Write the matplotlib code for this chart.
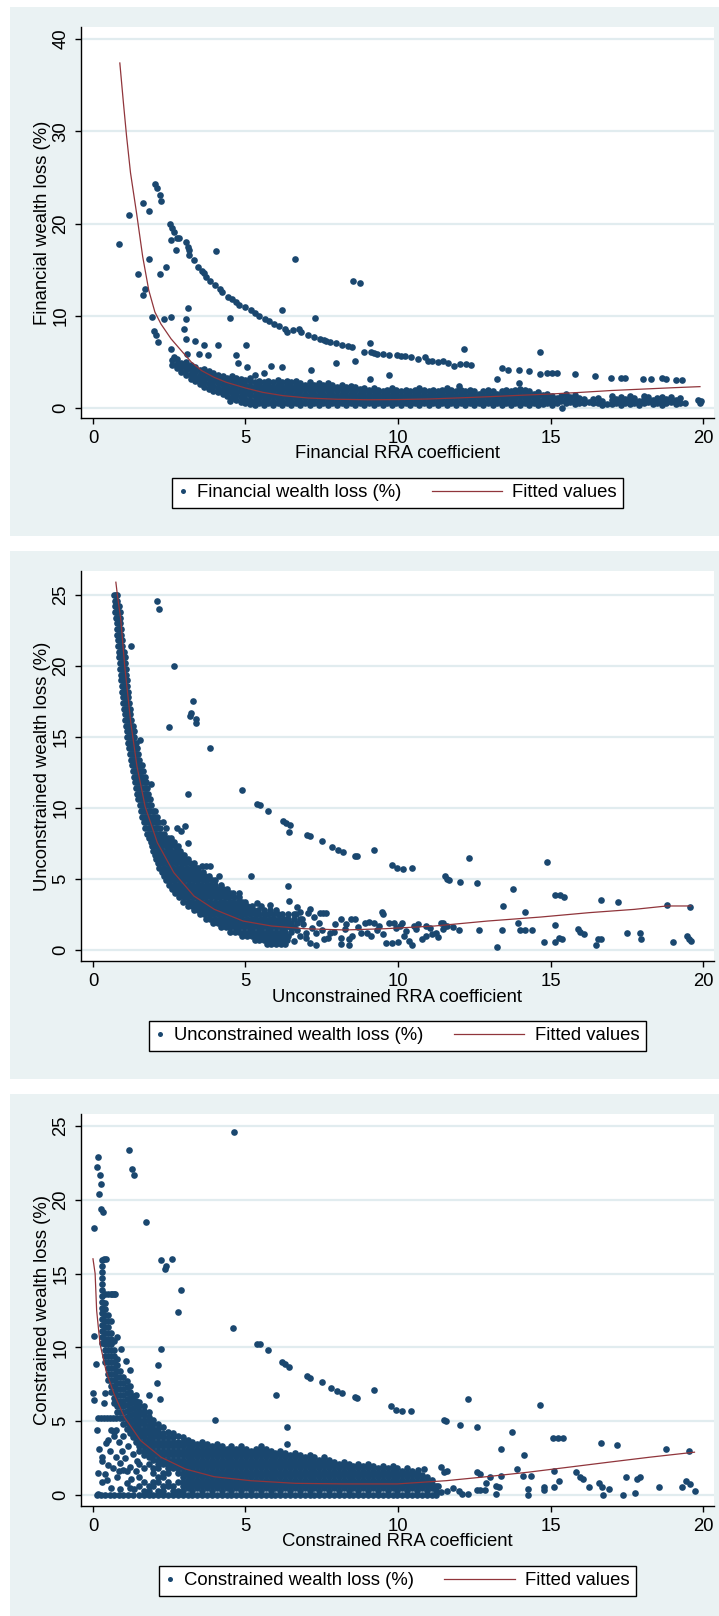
import matplotlib
matplotlib.use("Agg")
import matplotlib.pyplot as plt
from matplotlib.patches import Rectangle
from matplotlib.lines import Line2D
from matplotlib.legend_handler import HandlerBase

plt.rcParams["font.family"] = ["Liberation Sans", "DejaVu Sans"]

W, H, DPI = 719, 1616, 100
NAVY = "#1a476f"
MAROON = "#90353b"
PANEL_BG = "#eaf2f3"
GRID_C = "#e1ecef"
FS = 13.3
MS = 4.8

# ---------------- axis ticks / labels ----------------
x_ticks = [0, 5, 10, 15, 20]
p1_yticks = [0, 10, 20, 30, 40]
p2_yticks = [0, 5, 10, 15, 20, 25]
p3_yticks = [0, 5, 10, 15, 20, 25]

p1_xlabel = "Financial RRA coefficient"
p1_ylabel = "Financial wealth loss (%)"
p2_xlabel = "Unconstrained RRA coefficient"
p2_ylabel = "Unconstrained wealth loss (%)"
p3_xlabel = "Constrained RRA coefficient"
p3_ylabel = "Constrained wealth loss (%)"
fit_label = "Fitted values"

# ---------------- Panel 1: financial ----------------
p1_fit_x = [0.88, 1.0, 1.1, 1.23, 1.43, 1.63, 1.83, 2.03, 2.23, 2.56, 2.9, 3.23, 3.56, 3.97, 4.37,
            5.0, 5.57, 6.23, 7.04, 8.0, 9.0, 10.0, 11.0, 12.0, 13.0, 14.0, 15.0, 16.0, 17.0, 18.0, 19.0, 19.9]
p1_fit_y = [37.4, 33.0, 29.5, 25.5, 21.1, 16.4, 12.75, 10.4, 9.1, 7.5, 6.2, 4.96, 4.06, 3.33, 2.79,
            2.17, 1.7, 1.34, 1.09, 0.95, 0.9, 0.92, 0.98, 1.1, 1.23, 1.38, 1.52, 1.7, 1.9, 2.05, 2.2, 2.32]

p1_band = [
    (2.60, [4.7, 5.2]), (2.75, [4.3, 4.8, 5.3]), (2.90, [3.9, 4.4, 4.9]), (3.05, [3.6, 4.1, 4.6, 5.0]),
    (3.20, [3.2, 3.7, 4.2, 4.7]), (3.35, [2.9, 3.4, 3.9, 4.4]), (3.50, [2.6, 3.1, 3.6, 4.1]),
    (3.65, [2.3, 2.8, 3.3, 3.8, 4.2]), (3.80, [2.1, 2.6, 3.1, 3.6, 4.0]), (3.95, [1.9, 2.4, 2.9, 3.4, 3.8]),
    (4.10, [1.7, 2.2, 2.7, 3.2, 3.6]), (4.25, [1.5, 2.0, 2.5, 3.0, 3.5]), (4.40, [1.3, 1.8, 2.3, 2.8, 3.3]),
    (4.55, [1.1, 1.6, 2.1, 2.6, 3.1, 3.5]), (4.70, [0.9, 1.4, 1.9, 2.4, 2.9, 3.3]),
    (4.85, [0.7, 1.2, 1.7, 2.2, 2.7, 3.2]), (5.00, [0.5, 1.0, 1.5, 2.0, 2.5, 3.0]),
    (5.15, [0.4, 0.9, 1.4, 1.9, 2.4, 2.9, 3.3]), (5.30, [0.3, 0.8, 1.3, 1.8, 2.3, 2.8, 3.6]),
    (5.45, [0.55, 1.05, 1.55, 2.05, 2.55, 2.95]), (5.60, [0.3, 0.8, 1.3, 1.8, 2.3, 2.8, 3.8]),
    (5.75, [0.55, 1.05, 1.55, 2.05, 2.55, 2.95]), (5.90, [0.3, 0.8, 1.3, 1.8, 2.3, 2.8]),
    (6.05, [0.55, 1.05, 1.55, 2.05, 2.55, 3.05]), (6.20, [0.3, 0.8, 1.3, 1.8, 2.3, 2.8]),
    (6.35, [0.55, 1.05, 1.55, 2.05, 2.55, 2.95]), (6.50, [0.3, 0.8, 1.3, 1.8, 2.3, 2.8]),
    (6.65, [0.55, 1.05, 1.55, 2.05, 2.55, 2.95]), (6.80, [0.3, 0.8, 1.3, 1.8, 2.3, 2.7]),
    (6.95, [0.55, 1.05, 1.55, 2.05, 2.55]), (7.10, [0.3, 0.8, 1.3, 1.8, 2.3, 2.8]),
    (7.25, [0.55, 1.05, 1.55, 2.05, 2.55]), (7.40, [0.3, 0.8, 1.3, 1.8, 2.3, 2.7]),
    (7.55, [0.55, 1.05, 1.55, 2.05, 2.5]), (7.70, [0.3, 0.8, 1.3, 1.8, 2.3, 2.7]),
    (7.85, [0.55, 1.05, 1.55, 2.05, 2.5]), (8.00, [0.3, 0.8, 1.3, 1.8, 2.3]),
    (8.15, [0.55, 1.05, 1.55, 2.05, 2.5]), (8.30, [0.3, 0.8, 1.3, 1.8, 2.3]),
    (8.45, [0.55, 1.05, 1.55, 2.05, 2.4]), (8.60, [0.3, 0.8, 1.3, 1.8, 2.3]),
    (8.75, [0.55, 1.05, 1.55, 2.05]), (8.90, [0.3, 0.8, 1.3, 1.8, 2.2]),
    (9.05, [0.55, 1.05, 1.55, 2.0]), (9.20, [0.3, 0.8, 1.3, 1.8, 2.2]), (9.35, [0.55, 1.05, 1.55, 2.0]),
    (9.50, [0.3, 0.8, 1.3, 1.8]), (9.65, [0.55, 1.05, 1.55, 2.0]), (9.80, [0.3, 0.8, 1.3, 1.8, 2.2]),
    (9.95, [0.55, 1.05, 1.55, 2.0]), (10.10, [0.3, 0.8, 1.3, 1.8]), (10.25, [0.55, 1.05, 1.55, 2.0]),
    (10.40, [0.3, 0.8, 1.3, 1.8]), (10.55, [0.55, 1.05, 1.55, 2.0]), (10.70, [0.3, 0.8, 1.3, 1.8, 2.2]),
    (10.85, [0.55, 1.05, 1.55, 1.95]), (11.00, [0.3, 0.8, 1.3, 1.8]), (11.15, [0.55, 1.05, 1.55, 2.0]),
    (11.30, [0.3, 0.8, 1.3, 1.8]), (11.45, [0.55, 1.05, 1.55, 2.0]), (11.60, [0.3, 0.8, 1.3, 1.8, 2.2]),
    (11.75, [0.55, 1.05, 1.55, 2.0]), (11.90, [0.3, 0.8, 1.3, 1.8]), (12.05, [0.55, 1.05, 1.55, 2.0]),
    (12.20, [0.3, 0.8, 1.3, 1.8]), (12.35, [0.55, 1.05, 1.55, 1.95]), (12.50, [0.3, 0.8, 1.3, 1.8]),
    (12.65, [0.55, 1.05, 1.55]), (12.80, [0.3, 0.8, 1.3, 1.8]), (12.95, [0.55, 1.05, 1.55, 1.95]),
    (13.10, [0.3, 0.8, 1.3, 1.8]), (13.25, [0.55, 1.05, 1.55]), (13.40, [0.3, 0.8, 1.3, 1.8]),
    (13.55, [0.55, 1.05, 1.55, 2.0]), (13.70, [0.3, 0.8, 1.3, 1.8]), (13.85, [0.55, 1.05, 1.55, 2.0]),
    (14.00, [0.3, 0.8, 1.3, 1.8, 2.1]), (14.15, [0.55, 1.05, 1.55, 2.0]), (14.30, [0.3, 0.8, 1.3, 1.8]),
    (14.45, [0.55, 1.05, 1.55]), (14.60, [0.3, 0.8, 1.3, 1.7]),
    (14.75, [0.4, 0.9, 1.4]), (14.90, [0.5, 1.0, 1.5]), (15.05, [0.3, 0.8, 1.3]), (15.20, [0.6, 1.1]),
    (15.35, [0.8, 1.3]), (15.50, [0.5, 1.0, 1.5]), (15.65, [0.7, 1.2]), (15.80, [0.4, 0.9, 1.4]),
    (15.95, [0.6, 1.1]), (16.10, [0.5, 1.0]), (16.25, [0.7]), (16.40, [0.5, 1.0]), (16.55, [0.6, 1.1]),
    (16.70, [0.3, 0.8]), (16.85, [0.4]), (17.00, [0.4, 0.9, 1.3]), (17.15, [0.5, 1.0]),
    (17.30, [0.3, 0.8, 1.2]), (17.45, [0.5, 1.0]), (17.60, [0.4, 0.9, 1.3]), (17.75, [0.6, 1.1]),
    (17.90, [0.3, 0.8]), (18.05, [0.5, 1.0, 1.3]), (18.20, [0.7, 1.2]), (18.35, [0.4, 0.9]),
    (18.50, [0.6, 1.1]), (18.65, [0.3, 0.8, 1.2]), (18.80, [0.5, 1.0]), (18.95, [0.7, 1.2]),
    (19.10, [0.4, 0.9]), (19.25, [0.6, 1.1]), (19.40, [0.5]),
]

p1_scatter = [
    (0.84, 17.8), (1.19, 20.9), (1.63, 22.2), (1.83, 21.4), (2.03, 24.3), (2.1, 23.8), (2.19, 23.1), (2.23, 22.4),
    (2.52, 20.0), (2.6, 19.5), (2.66, 19.1), (2.56, 18.2), (2.76, 18.4), (2.83, 18.4), (2.72, 17.1), (3.06, 18.0),
    (3.1, 17.5), (3.16, 17.1), (3.14, 16.6), (3.3, 16.0), (3.45, 15.3), (3.56, 14.9), (3.63, 14.6), (3.72, 14.2),
    (3.83, 13.8), (4.0, 13.3), (4.17, 12.9), (4.23, 12.6), (4.43, 12.0), (4.55, 11.8), (4.7, 11.5), (4.8, 11.2),
    (5.0, 10.9), (5.17, 10.6), (5.3, 10.3), (5.43, 10.0), (5.63, 9.7), (5.77, 9.4), (5.95, 9.1), (6.1, 8.9),
    (6.3, 8.6), (6.37, 8.2), (6.55, 8.5), (6.77, 8.6), (6.83, 8.2), (7.04, 7.9), (7.24, 7.7), (7.44, 7.5),
    (7.57, 7.4), (7.65, 7.3), (7.77, 7.2), (7.97, 7.0), (8.17, 6.8), (8.35, 6.7), (8.5, 6.6), (8.9, 6.1),
    (9.1, 6.1), (9.2, 6.0), (9.3, 5.9), (9.5, 5.9), (9.7, 5.8), (9.97, 5.7), (10.1, 5.6), (10.24, 5.6),
    (10.44, 5.5), (10.64, 5.3), (10.9, 5.5), (10.97, 5.1), (11.1, 5.1), (11.3, 5.0), (11.48, 5.1), (11.65, 4.9),
    (11.84, 4.6), (12.04, 4.8), (12.24, 4.8), (12.4, 4.7),
    (1.47, 14.5), (1.83, 16.1), (2.19, 14.5), (2.4, 15.3), (1.7, 12.9), (1.63, 12.2), (1.94, 9.9), (1.99, 8.4),
    (2.06, 7.9), (2.14, 7.2), (2.34, 9.6), (2.56, 9.9), (3.1, 10.8), (3.06, 9.7), (3.0, 8.6), (3.06, 7.5),
    (3.36, 7.3), (3.63, 6.8), (2.56, 6.4), (2.66, 5.5), (3.07, 5.9), (3.46, 5.9), (3.77, 5.8), (4.1, 6.8),
    (4.03, 17.0), (4.5, 9.8), (4.7, 5.8), (4.74, 4.9), (5.03, 6.8), (5.06, 4.4), (6.21, 10.6), (6.61, 16.1),
    (7.28, 9.8), (8.53, 13.8), (8.77, 13.6), (7.97, 4.9), (8.58, 5.1), (9.07, 7.1), (7.14, 4.1), (5.83, 4.6),
    (6.21, 4.5), (9.08, 3.2), (9.7, 3.6), (12.15, 6.4), (12.0, 2.4), (13.25, 3.2), (13.4, 4.3), (13.6, 4.1),
    (13.98, 4.1), (13.98, 2.7), (14.31, 4.0), (14.67, 6.1), (14.67, 3.7), (14.9, 3.8), (15.05, 3.8), (15.2, 3.8),
    (15.8, 3.7), (16.45, 3.5), (16.98, 3.3), (17.3, 3.3), (17.45, 3.3), (18.02, 3.2), (18.29, 3.2), (18.65, 3.3),
    (18.78, 3.2), (19.12, 3.0), (19.32, 3.0), (19.85, 0.9), (19.9, 0.6), (19.95, 0.8), (15.38, 0.0), (4.5, 0.8),
]

# ---------------- Panel 2: unconstrained ----------------
p2_fit_x = [0.75, 0.8, 0.91, 1.04, 1.24, 1.44, 1.71, 2.11, 2.65, 3.31, 3.98, 4.92, 5.85, 6.92, 8.26,
            9.59, 11.2, 12.94, 14.67, 16.27, 17.74, 18.81, 19.6]
p2_fit_y = [25.9, 25.0, 23.3, 20.0, 16.0, 12.96, 10.1, 7.56, 5.45, 3.8, 2.86, 2.04, 1.69, 1.5, 1.41,
            1.5, 1.69, 2.04, 2.32, 2.63, 2.86, 3.1, 3.1]

p2_band = [
    (25.0, [0.70, 0.74, 0.79]), (24.6, [0.71, 0.74, 0.80]), (24.2, [0.72, 0.75, 0.81, 0.85]),
    (23.8, [0.73, 0.76, 0.82, 0.87]), (23.4, [0.77, 0.83, 0.88]), (23.0, [0.78, 0.84, 0.90]),
    (22.6, [0.79, 0.85, 0.91]), (22.2, [0.80, 0.86, 0.92]), (21.8, [0.82, 0.88, 0.94]),
    (21.4, [0.83, 0.89, 0.95]), (21.0, [0.85, 0.91, 0.97, 1.02]), (20.6, [0.86, 0.92, 0.98, 1.04]),
    (20.2, [0.88, 0.94, 1.00, 1.06]), (19.8, [0.90, 0.96, 1.02, 1.08]), (19.4, [0.91, 0.97, 1.03, 1.09]),
    (19.0, [0.93, 0.99, 1.05, 1.10]), (18.6, [0.94, 1.00, 1.06, 1.12]), (18.2, [0.96, 1.02, 1.08, 1.14]),
    (17.8, [0.98, 1.04, 1.10, 1.16]), (17.4, [1.00, 1.06, 1.12, 1.18]), (17.0, [1.02, 1.08, 1.14, 1.20]),
    (16.6, [1.04, 1.10, 1.16, 1.22]), (16.2, [1.06, 1.12, 1.18, 1.24]),
    (15.8, [1.08, 1.14, 1.20, 1.26, 1.30]), (15.4, [1.10, 1.16, 1.22, 1.28, 1.33]),
    (15.0, [1.13, 1.19, 1.25, 1.31, 1.36]), (14.6, [1.16, 1.22, 1.28, 1.34, 1.40]),
    (14.2, [1.19, 1.25, 1.31, 1.37, 1.43]), (13.8, [1.22, 1.28, 1.34, 1.40, 1.46]),
    (13.4, [1.25, 1.31, 1.37, 1.43, 1.50]), (13.0, [1.28, 1.34, 1.40, 1.46, 1.53, 1.60]),
    (12.6, [1.31, 1.38, 1.45, 1.52, 1.59, 1.65]), (12.2, [1.34, 1.41, 1.48, 1.55, 1.62, 1.69]),
    (11.8, [1.38, 1.45, 1.52, 1.59, 1.66, 1.73]), (11.4, [1.41, 1.48, 1.55, 1.62, 1.69, 1.77]),
    (11.0, [1.45, 1.52, 1.59, 1.66, 1.73, 1.81]), (10.6, [1.49, 1.56, 1.63, 1.70, 1.78, 1.86]),
    (10.2, [1.53, 1.60, 1.67, 1.75, 1.83, 1.91]), (9.8, [1.57, 1.64, 1.72, 1.80, 1.88, 1.96, 2.04]),
    (9.4, [1.61, 1.69, 1.77, 1.85, 1.93, 2.01, 2.09]), (9.0, [1.66, 1.74, 1.82, 1.90, 1.98, 2.06, 2.14, 2.30]),
    (8.6, [1.71, 1.79, 1.87, 1.95, 2.03, 2.11, 2.19, 2.40]), (8.2, [1.76, 1.84, 1.92, 2.00, 2.08, 2.16, 2.24, 2.32]),
    (7.9, [1.85, 2.0, 2.15, 2.3, 2.45, 2.55]),
    (7.6, [1.9, 2.05, 2.2, 2.35, 2.5, 2.65]),
    (7.3, [1.93, 2.08, 2.23, 2.38, 2.53, 2.68, 2.78]),
    (7.0, [1.97, 2.12, 2.27, 2.42, 2.57, 2.72, 2.85]),
    (6.7, [2.02, 2.17, 2.32, 2.47, 2.62, 2.77, 2.92, 3.0]),
    (6.4, [2.07, 2.22, 2.37, 2.52, 2.67, 2.82, 2.97, 3.12]),
    (6.1, [2.12, 2.27, 2.42, 2.57, 2.72, 2.87, 3.02, 3.17, 3.3]),
    (5.8, [2.18, 2.33, 2.48, 2.63, 2.78, 2.93, 3.08, 3.23, 3.38, 3.45]),
    (5.5, [2.25, 2.4, 2.55, 2.7, 2.85, 3.0, 3.15, 3.3, 3.45, 3.6]),
    (5.2, [2.32, 2.47, 2.62, 2.77, 2.92, 3.07, 3.22, 3.37, 3.52, 3.67, 3.8]),
    (4.9, [2.4, 2.55, 2.7, 2.85, 3.0, 3.15, 3.3, 3.45, 3.6, 3.75, 3.9, 4.0]),
    (4.6, [2.5, 2.65, 2.8, 2.95, 3.1, 3.25, 3.4, 3.55, 3.7, 3.85, 4.0, 4.2]),
    (4.3, [2.6, 2.75, 2.9, 3.05, 3.2, 3.35, 3.5, 3.65, 3.8, 3.95, 4.1, 4.25, 4.4]),
    (4.0, [2.7, 2.85, 3.0, 3.15, 3.3, 3.45, 3.6, 3.75, 3.9, 4.05, 4.2, 4.35, 4.5, 4.6]),
    (3.7, [2.82, 2.97, 3.12, 3.27, 3.42, 3.57, 3.72, 3.87, 4.02, 4.17, 4.32, 4.47, 4.62, 4.8]),
    (3.4, [2.95, 3.1, 3.25, 3.4, 3.55, 3.7, 3.85, 4.0, 4.15, 4.3, 4.45, 4.6, 4.75, 4.9, 5.0]),
    (3.1, [3.1, 3.25, 3.4, 3.55, 3.7, 3.85, 4.0, 4.15, 4.3, 4.45, 4.6, 4.75, 4.9, 5.05, 5.2, 5.5]),
    (2.8, [3.3, 3.45, 3.6, 3.75, 3.9, 4.05, 4.2, 4.35, 4.5, 4.65, 4.8, 4.95, 5.1, 5.25, 5.4, 5.6, 5.8, 6.0]),
    (2.5, [3.5, 3.65, 3.8, 3.95, 4.1, 4.25, 4.4, 4.55, 4.7, 4.85, 5.0, 5.15, 5.3, 5.45, 5.6, 5.75, 5.9,
           6.05, 6.2, 6.4, 6.6]),
    (2.2, [3.7, 3.85, 4.0, 4.15, 4.3, 4.45, 4.6, 4.75, 4.9, 5.05, 5.2, 5.35, 5.5, 5.65, 5.8, 5.95, 6.1,
           6.25, 6.4, 6.6, 6.8]),
    (1.9, [3.95, 4.1, 4.25, 4.4, 4.55, 4.7, 4.85, 5.0, 5.15, 5.3, 5.45, 5.6, 5.75, 5.9, 6.05, 6.2, 6.35,
           6.5, 6.7]),
    (1.6, [4.2, 4.35, 4.5, 4.65, 4.8, 4.95, 5.1, 5.25, 5.4, 5.55, 5.7, 5.85, 6.0, 6.15, 6.3, 6.45, 6.6]),
    (1.3, [4.5, 4.65, 4.8, 4.95, 5.1, 5.25, 5.4, 5.55, 5.7, 5.85, 6.0, 6.15, 6.3, 6.5]),
    (1.0, [4.9, 5.05, 5.2, 5.35, 5.5, 5.65, 5.8, 5.95, 6.1, 6.25, 6.4]),
    (0.7, [5.3, 5.45, 5.6, 5.75, 5.9, 6.05, 6.2, 6.35]),
    (0.4, [5.7, 5.85, 6.0, 6.15, 6.3]),
]

p2_scatter = [
    (2.09, 24.6), (2.16, 24.0), (1.26, 21.4), (2.65, 20.0), (3.29, 17.5), (3.21, 16.7), (3.18, 16.5), (3.38, 16.3),
    (3.38, 16.0), (2.49, 15.7), (3.82, 14.25), (1.55, 14.8), (1.91, 11.7), (3.13, 11.0), (4.89, 11.3), (5.39, 10.3),
    (5.49, 10.2), (5.75, 9.8), (6.23, 9.08), (6.32, 8.92), (6.45, 8.78), (6.43, 8.33), (7.03, 8.08), (7.12, 8.0),
    (7.52, 7.68), (7.82, 7.25), (8.03, 7.02), (8.19, 6.9), (8.6, 6.6), (8.66, 6.6), (9.22, 7.04), (9.79, 5.96),
    (9.97, 5.8), (10.15, 5.68), (10.46, 5.77), (11.53, 5.2), (11.6, 5.0), (11.67, 4.9), (12.04, 4.8), (12.6, 4.7),
    (12.33, 6.5), (13.76, 4.27), (13.43, 3.1), (14.16, 2.7), (14.9, 6.2), (15.14, 3.9), (15.3, 3.85), (15.44, 3.75),
    (16.67, 3.5), (17.21, 3.4), (18.81, 3.15), (19.57, 3.0),
    (13.23, 0.23), (13.41, 1.4), (13.93, 1.9), (14.0, 1.4), (14.16, 1.4), (14.4, 1.4), (14.8, 0.56), (15.14, 0.56),
    (15.14, 1.74), (15.27, 0.87), (15.37, 0.75), (15.9, 1.5), (15.98, 1.27), (16.1, 1.1), (16.48, 0.33),
    (16.57, 0.75), (16.67, 0.8), (17.52, 1.22), (17.94, 1.22), (17.98, 0.75), (19.0, 0.59), (19.48, 0.98),
    (19.54, 0.8), (19.6, 0.63), (12.64, 1.4), (11.47, 1.92), (11.6, 1.69),
    (3.11, 7.56), (3.02, 8.73), (3.58, 5.9), (3.72, 5.9), (3.85, 5.9), (4.12, 5.2), (4.78, 4.0), (5.19, 5.2),
    (5.39, 3.33), (5.79, 3.2), (6.38, 4.5), (6.43, 3.45), (2.9, 8.4), (2.75, 8.6),
    (6.65, 2.5), (6.85, 2.16), (7.05, 2.6), (7.25, 2.35), (7.45, 2.6), (7.55, 2.6), (7.65, 2.6), (7.18, 1.57),
    (7.31, 1.22), (7.58, 0.75), (7.78, 1.22), (7.92, 1.8), (8.12, 2.16), (8.26, 1.45), (8.46, 2.16), (8.6, 2.16),
    (8.39, 0.75), (8.12, 0.87), (7.71, 0.87), (7.31, 0.33), (8.8, 1.22), (8.93, 1.9), (9.06, 1.95), (9.2, 1.9),
    (8.99, 1.22), (9.13, 1.0), (9.39, 1.7), (9.46, 2.68), (9.52, 2.5), (9.72, 1.93), (9.86, 1.93), (9.93, 1.57),
    (10.06, 1.7), (10.13, 1.9), (10.26, 1.34), (10.53, 1.7), (10.66, 1.8), (10.6, 1.45), (10.93, 1.7),
    (11.06, 1.57), (11.4, 1.93), (11.53, 1.7), (11.46, 1.45), (9.6, 0.5), (9.8, 0.5), (9.99, 0.56), (10.37, 0.63),
    (10.46, 0.33), (10.8, 0.75), (10.93, 0.99), (11.13, 1.1), (11.26, 1.22), (6.79, 0.99), (6.99, 0.87),
    (7.12, 0.52), (8.12, 0.4), (8.39, 0.33), (6.7, 1.4), (6.9, 1.8), (7.0, 1.2), (7.4, 1.9), (7.5, 1.4),
    (7.9, 1.3), (8.3, 1.8), (8.5, 1.0), (8.7, 1.6), (9.3, 1.4), (9.5, 1.1), (6.6, 0.6), (6.8, 2.7), (7.1, 2.9),
    (6.7, 3.0), (11.8, 1.6), (12.0, 1.4), (11.3, 0.9), (10.2, 1.0),
]

# ---------------- Panel 3: constrained ----------------
p3_fit_x = [0.0, 0.07, 0.12, 0.23, 0.43, 0.69, 1.03, 1.56, 2.23, 3.03, 3.97, 5.17, 6.64, 8.24, 9.97,
            11.58, 12.91, 14.25, 15.58, 16.9, 18.25, 19.72]
p3_fit_y = [16.0, 15.0, 12.5, 10.25, 8.4, 6.85, 5.27, 3.69, 2.56, 1.76, 1.24, 0.97, 0.79, 0.75, 0.75,
            0.97, 1.24, 1.54, 1.88, 2.22, 2.56, 2.9]

p3_band = [
    (0.30, [10.3, 10.7, 11.1, 11.5, 11.9, 12.3, 12.7, 13.1, 13.5, 13.9, 14.3, 14.7, 15.1, 15.5, 15.9]),
    (0.40, [9.0, 9.4, 9.8, 10.2, 10.6, 11.0, 11.4, 11.8, 12.2, 12.6, 13.0, 13.6]),
    (0.50, [7.8, 8.2, 8.6, 9.0, 9.4, 9.8, 10.2, 10.6, 11.0, 11.4, 11.8, 12.2, 13.6]),
    (0.60, [7.0, 7.4, 7.8, 8.2, 8.6, 9.0, 9.4, 9.8, 10.2, 10.6, 11.0, 11.8, 13.6]),
    (0.70, [6.2, 6.6, 7.0, 7.4, 7.8, 8.2, 8.6, 9.0, 9.4, 9.8, 10.4, 13.6]),
    (0.80, [5.6, 6.0, 6.4, 6.8, 7.2, 7.6, 8.0, 8.4, 8.8, 9.2]),
    (0.90, [5.2, 5.6, 6.0, 6.4, 6.8, 7.2, 7.6, 8.0, 8.4]),
    (1.00, [4.8, 5.2, 5.6, 6.0, 6.4, 6.8, 7.2, 7.6, 8.0]),
    (1.10, [4.5, 4.9, 5.3, 5.7, 6.1, 6.5, 6.9, 7.3, 7.7]),
    (1.20, [4.2, 4.6, 5.0, 5.4, 5.8, 6.2, 6.6, 7.0, 7.4]),
    (1.30, [3.9, 4.3, 4.7, 5.1, 5.5, 5.9, 6.3, 6.7]),
    (1.40, [3.6, 4.0, 4.4, 4.8, 5.2, 5.6, 6.0, 6.4, 6.8]),
    (1.50, [0.0, 0.6, 1.2, 2.1, 3.0, 3.3, 3.6, 3.9, 4.2, 4.5, 4.8, 5.1, 5.4, 5.7, 6.0, 6.3]),
    (1.66, [0.0, 0.3, 0.9, 1.8, 2.7, 3.0, 3.3, 3.6, 3.9, 4.2, 4.5, 4.8, 5.1, 5.4, 5.7, 6.0]),
    (1.82, [0.0, 0.3, 0.6, 2.1, 2.6, 2.9, 3.2, 3.5, 3.8, 4.1, 4.4, 4.7, 5.0, 5.3, 5.6]),
    (1.98, [0.0, 0.6, 0.9, 1.5, 1.8, 2.4, 2.7, 3.0, 3.3, 3.6, 3.9, 4.2, 4.5, 4.8, 5.1]),
    (2.14, [0.0, 0.3, 0.9, 1.2, 1.8, 2.1, 2.4, 2.7, 3.0, 3.3, 3.6, 3.9, 4.2, 4.5, 4.8]),
    (2.30, [0.0, 0.3, 0.6, 1.2, 1.5, 2.1, 2.4, 2.7, 3.0, 3.3, 3.6, 3.9, 4.2, 4.6]),
    (2.46, [0.0, 0.6, 0.9, 1.5, 1.8, 2.1, 2.4, 2.7, 3.0, 3.3, 3.6, 3.9, 4.3]),
    (2.62, [0.0, 0.3, 0.6, 1.8, 2.1, 2.4, 2.7, 3.0, 3.3, 3.6, 3.9, 4.2]),
    (2.78, [0.0, 0.3, 0.9, 1.5, 1.8, 2.1, 2.4, 2.7, 3.0, 3.3, 3.6, 4.0]),
    (2.94, [0.0, 0.3, 0.6, 0.9, 1.2, 1.5, 1.8, 2.1, 2.4, 2.7, 3.0, 3.3, 3.6, 3.9]),
    (3.10, [0.0, 0.45, 0.75, 1.05, 1.35, 1.65, 1.95, 2.25, 2.55, 2.85, 3.15, 3.45, 3.75]),
    (3.26, [0.0, 0.3, 0.6, 0.9, 1.2, 1.5, 1.8, 2.1, 2.4, 2.7, 3.0, 3.3, 3.6]),
    (3.42, [0.0, 0.45, 0.75, 1.05, 1.35, 1.65, 1.95, 2.25, 2.55, 2.85, 3.15, 3.45]),
    (3.58, [0.0, 0.3, 0.6, 0.9, 1.2, 1.5, 1.8, 2.1, 2.4, 2.7, 3.0, 3.3, 3.6]),
    (3.74, [0.0, 0.45, 0.75, 1.05, 1.35, 1.65, 1.95, 2.25, 2.55, 2.85, 3.15, 3.45]),
    (3.90, [0.0, 0.3, 0.6, 0.9, 1.2, 1.5, 1.8, 2.1, 2.4, 2.7, 3.0, 3.3]),
    (4.06, [0.0, 0.45, 0.75, 1.05, 1.35, 1.65, 1.95, 2.25, 2.55, 2.85, 3.15, 3.45]),
    (4.22, [0.0, 0.3, 0.6, 0.9, 1.2, 1.5, 1.8, 2.1, 2.4, 2.7, 3.0, 3.3]),
    (4.38, [0.0, 0.45, 0.75, 1.05, 1.35, 1.65, 1.95, 2.25, 2.55, 2.85, 3.15]),
    (4.54, [0.0, 0.3, 0.6, 0.9, 1.2, 1.5, 1.8, 2.1, 2.4, 2.7, 3.0, 3.3]),
    (4.70, [0.0, 0.45, 0.75, 1.05, 1.35, 1.65, 1.95, 2.25, 2.55, 2.85, 3.15]),
    (4.86, [0.0, 0.3, 0.6, 0.9, 1.2, 1.5, 1.8, 2.1, 2.4, 2.7, 3.0, 3.3]),
    (5.02, [0.0, 0.45, 0.75, 1.05, 1.35, 1.65, 1.95, 2.25, 2.55, 2.85, 3.15]),
    (5.18, [0.0, 0.3, 0.6, 0.9, 1.2, 1.5, 1.8, 2.1, 2.4, 2.7, 3.0]),
    (5.34, [0.0, 0.45, 0.75, 1.05, 1.35, 1.65, 1.95, 2.25, 2.55, 2.85, 3.15]),
    (5.50, [0.0, 0.3, 0.6, 0.9, 1.2, 1.5, 1.8, 2.1, 2.4, 2.7, 3.0, 3.3]),
    (5.66, [0.0, 0.45, 0.75, 1.05, 1.35, 1.65, 1.95, 2.25, 2.55, 2.85, 3.15]),
    (5.82, [0.0, 0.3, 0.6, 0.9, 1.2, 1.5, 1.8, 2.1, 2.4, 2.7, 3.0]),
    (5.98, [0.0, 0.45, 0.75, 1.05, 1.35, 1.65, 1.95, 2.25, 2.55, 2.85]),
    (6.14, [0.0, 0.3, 0.6, 0.9, 1.2, 1.5, 1.8, 2.1, 2.4, 2.7, 3.0]),
    (6.30, [0.0, 0.45, 0.75, 1.05, 1.35, 1.65, 1.95, 2.25, 2.55, 2.85]),
    (6.46, [0.0, 0.3, 0.6, 0.9, 1.2, 1.5, 1.8, 2.1, 2.4, 2.7]),
    (6.62, [0.0, 0.45, 0.75, 1.05, 1.35, 1.65, 1.95, 2.25, 2.55, 2.85]),
    (6.78, [0.0, 0.3, 0.6, 0.9, 1.2, 1.5, 1.8, 2.1, 2.4, 2.7]),
    (6.94, [0.0, 0.45, 0.75, 1.05, 1.35, 1.65, 1.95, 2.25, 2.55]),
    (7.10, [0.0, 0.3, 0.6, 0.9, 1.2, 1.5, 1.8, 2.1, 2.4, 2.7]),
    (7.26, [0.0, 0.45, 0.75, 1.05, 1.35, 1.65, 1.95, 2.25, 2.55]),
    (7.42, [0.0, 0.3, 0.6, 0.9, 1.2, 1.5, 1.8, 2.1, 2.4]),
    (7.58, [0.0, 0.45, 0.75, 1.05, 1.35, 1.65, 1.95, 2.25, 2.55]),
    (7.74, [0.0, 0.3, 0.6, 0.9, 1.2, 1.5, 1.8, 2.1, 2.4]),
    (7.90, [0.0, 0.45, 0.75, 1.05, 1.35, 1.65, 1.95, 2.25]),
    (8.06, [0.0, 0.3, 0.6, 0.9, 1.2, 1.5, 1.8, 2.1]),
    (8.22, [0.0, 0.45, 0.75, 1.05, 1.35, 1.65, 1.95, 2.25]),
    (8.38, [0.0, 0.3, 0.6, 0.9, 1.2, 1.5, 1.8, 2.1]),
    (8.54, [0.0, 0.45, 0.75, 1.05, 1.35, 1.65, 1.95]),
    (8.70, [0.0, 0.3, 0.6, 0.9, 1.2, 1.5, 1.8, 2.1]),
    (8.86, [0.0, 0.45, 0.75, 1.05, 1.35, 1.65, 1.95]),
    (9.02, [0.0, 0.3, 0.6, 0.9, 1.2, 1.5, 1.8, 2.1]),
    (9.18, [0.0, 0.45, 0.75, 1.05, 1.35, 1.65, 1.95]),
    (9.34, [0.0, 0.3, 0.6, 0.9, 1.2, 1.5, 1.8]),
    (9.50, [0.0, 0.45, 0.75, 1.05, 1.35, 1.65, 1.95]),
    (9.66, [0.0, 0.3, 0.6, 0.9, 1.2, 1.5, 1.8]),
    (9.82, [0.0, 0.45, 0.75, 1.05, 1.35, 1.65, 1.95]),
    (9.98, [0.0, 0.3, 0.6, 0.9, 1.2, 1.5, 1.8]),
    (10.14, [0.0, 0.45, 0.75, 1.05, 1.35, 1.65]),
    (10.30, [0.0, 0.3, 0.6, 0.9, 1.2, 1.5, 1.8]),
    (10.46, [0.0, 0.45, 0.75, 1.05, 1.35, 1.65]),
    (10.62, [0.0, 0.3, 0.6, 0.9, 1.2, 1.5]),
    (10.78, [0.0, 0.45, 0.75, 1.05, 1.35]),
    (10.94, [0.0, 0.3, 0.6, 0.9, 1.2]),
    (11.10, [0.0, 0.45, 0.75, 1.05]),
    (11.26, [0.0, 0.3, 0.6]),
]

p3_scatter = [
    (4.63, 24.6), (1.19, 23.4), (0.16, 22.9), (0.12, 22.2), (0.23, 21.7), (0.25, 21.1), (0.2, 20.4), (0.27, 19.4),
    (0.32, 19.2), (1.27, 22.1), (1.34, 21.7), (1.74, 18.5), (0.03, 18.1), (0.36, 16.0), (0.43, 16.0),
    (2.23, 15.9), (2.36, 15.3), (2.4, 15.5), (2.58, 16.0), (2.87, 13.9), (2.8, 12.4), (0.63, 13.6), (0.73, 13.6),
    (4.59, 11.3), (0.03, 10.8), (2.23, 9.86), (2.14, 8.8), (2.1, 7.6), (1.83, 6.8), (2.19, 6.5), (0.09, 8.85),
    (0.0, 6.9), (0.03, 6.45), (0.12, 4.4), (0.39, 6.9), (0.36, 6.2), (1.2, 8.5), (1.09, 9.1), (0.93, 9.86),
    (0.79, 10.7), (5.37, 10.25), (5.47, 10.2), (5.73, 9.8), (6.21, 9.0), (6.3, 8.85), (6.44, 8.67), (7.01, 8.03),
    (7.1, 7.92), (7.5, 7.65), (7.8, 7.26), (8.01, 7.04), (8.17, 6.9), (8.58, 6.63), (8.64, 6.58), (9.2, 7.08),
    (6.01, 6.8), (4.0, 5.05), (6.37, 4.6), (6.37, 3.46), (9.77, 6.0), (9.95, 5.77), (10.13, 5.68), (10.44, 5.68),
    (11.51, 5.09), (11.58, 5.0), (12.02, 4.75), (12.58, 4.64), (12.31, 6.47), (13.39, 3.12), (13.74, 4.25),
    (14.14, 2.71), (14.67, 6.1), (15.09, 3.85), (15.25, 3.85), (15.41, 3.85), (16.65, 3.5), (17.18, 3.42),
    (18.79, 3.12), (19.55, 3.0),
    (13.38, 1.31), (13.91, 1.76), (14.11, 1.31), (14.35, 1.31), (13.31, 0.52), (14.25, 0.41), (14.25, 0.0),
    (14.78, 0.52), (14.78, 0.34), (15.11, 0.57), (15.11, 1.65), (15.29, 0.97), (15.85, 1.54), (15.96, 1.2),
    (16.05, 1.09), (16.25, 0.52), (16.58, 0.79), (16.68, 0.52), (16.72, 0.02), (16.92, 0.41), (17.38, 0.02),
    (17.48, 1.2), (17.78, 0.11), (17.85, 1.09), (17.95, 1.2), (18.55, 0.52), (19.32, 0.52), (19.45, 0.97),
    (19.56, 0.75), (19.75, 0.25),
    (11.8, 0.5), (12.0, 0.3), (12.1, 0.1), (12.3, 0.1), (12.6, 0.34), (12.7, 0.34), (12.85, 0.34), (13.2, 0.63),
    (13.2, 0.07), (10.64, 1.7), (10.84, 1.76), (11.4, 1.92), (11.5, 1.54), (11.6, 1.65), (12.6, 1.54),
    (12.7, 1.43), (11.3, 0.6), (11.4, 0.2), (11.6, 0.3), (12.9, 0.8), (13.0, 1.2),
    (0.16, 5.25), (0.26, 5.25), (0.36, 5.25), (0.46, 5.25), (0.56, 5.25), (0.66, 5.25), (0.76, 5.25),
    (0.16, 1.47), (0.16, 0.07), (0.29, 2.56), (0.29, 2.3), (0.43, 3.5), (0.49, 3.7), (0.7, 4.0), (0.7, 4.25),
    (0.76, 4.4), (0.12, 0.0), (0.25, 0.0), (0.4, 0.0), (0.55, 0.0), (0.7, 0.0), (0.85, 0.0), (1.0, 0.0),
    (1.15, 0.0), (1.3, 0.0), (0.3, 0.9), (0.4, 1.4), (0.5, 2.0), (0.6, 0.5), (0.65, 1.8), (0.75, 2.6),
    (0.8, 1.2), (0.9, 0.4), (0.9, 2.2), (0.95, 3.0), (1.0, 1.7), (1.05, 2.5), (1.1, 0.8), (1.15, 3.3),
    (1.2, 1.9), (1.25, 1.1), (1.3, 2.8), (1.35, 0.4), (1.4, 1.6), (1.45, 2.3), (0.55, 3.0), (0.6, 4.4),
    (0.85, 3.6), (1.0, 4.0), (0.2, 3.1), (0.45, 1.0), (1.1, 1.6), (1.2, 0.5), (0.85, 1.6),
]


def pts_from_cols(cols):
    xs, ys = [], []
    for x, ylist in cols:
        for y in ylist:
            xs.append(x)
            ys.append(y)
    return xs, ys


def pts_from_rows(rows):
    xs, ys = [], []
    for y, xlist in rows:
        for x in xlist:
            xs.append(x)
            ys.append(y)
    return xs, ys


def pts_from_pairs(pairs):
    return [p[0] for p in pairs], [p[1] for p in pairs]


class HandlerDot(HandlerBase):
    def create_artists(self, legend, orig_handle, xdescent, ydescent, width, height, fontsize, trans):
        ln = Line2D([width / 2 - xdescent], [height / 2 - ydescent], marker="o", linestyle="none",
                    color=NAVY, markersize=3.6, markeredgewidth=0)
        ln.set_transform(trans)
        return [ln]


class HandlerLongLine(HandlerBase):
    def __init__(self, extra):
        super().__init__()
        self.extra = extra

    def create_artists(self, legend, orig_handle, xdescent, ydescent, width, height, fontsize, trans):
        y = height / 2 - ydescent
        ln = Line2D([-xdescent - self.extra, width - xdescent], [y, y], color=MAROON, linewidth=0.9)
        ln.set_transform(trans)
        return [ln]


fig = plt.figure(figsize=(W / DPI, H / DPI), dpi=DPI)
fig.patch.set_facecolor("white")


def make_panel(bg, axr, ylim, yticks, px, py, fx, fy, xlabel, ylabel):
    bx0, by0, bx1, by1 = bg
    fig.add_artist(Rectangle((bx0 / W, 1 - by1 / H), (bx1 - bx0) / W, (by1 - by0) / H,
                             transform=fig.transFigure, facecolor=PANEL_BG, edgecolor="none", zorder=-10))
    l, t, r, b = axr
    h = b - t
    ax = fig.add_axes([l / W, 1 - b / H, (r - l) / W, h / H])
    ax.set_facecolor("white")
    ax.set_xlim(-0.393, 20.36)
    ax.set_ylim(*ylim)
    ax.set_xticks(x_ticks)
    ax.set_yticks(yticks)
    ax.set_xticklabels([str(v) for v in x_ticks])
    ax.set_yticklabels([str(v) for v in yticks])
    for s in ("top", "right"):
        ax.spines[s].set_visible(False)
    for s in ("left", "bottom"):
        ax.spines[s].set_color("black")
        ax.spines[s].set_linewidth(1.0)
    ax.tick_params(axis="both", direction="out", length=4, width=1, color="black",
                   labelsize=FS, pad=4.5, labelcolor="black")
    ax.tick_params(axis="y", labelrotation=90)
    plt.setp(ax.get_yticklabels(), va="center", ha="right")
    ax.yaxis.grid(True, color=GRID_C, linewidth=1.6)
    ax.xaxis.grid(False)
    ax.set_axisbelow(True)

    sc, = ax.plot(px, py, linestyle="none", marker="o", markersize=MS, markeredgewidth=0,
                  color=NAVY, zorder=3)
    fl, = ax.plot(fx, fy, color=MAROON, linewidth=0.9, zorder=4)

    ax.set_xlabel(xlabel, fontsize=FS)
    ax.xaxis.set_label_coords(0.5, -27.5 / h)
    ax.set_ylabel(ylabel, fontsize=FS)
    ax.yaxis.set_label_coords((51 - l) / (r - l), 0.5)

    leg = ax.legend([sc, fl], [ylabel, fit_label], ncol=2, loc="upper center",
                    bbox_to_anchor=(0.5, -60 / h), frameon=True, fancybox=False,
                    edgecolor="black", facecolor="white", framealpha=1, fontsize=FS,
                    borderpad=0.35, handlelength=0.45, handletextpad=0.55, columnspacing=5.0,
                    borderaxespad=0, handler_map={sc: HandlerDot(), fl: HandlerLongLine(44.6)})
    leg.get_frame().set_linewidth(1.0)
    return ax


p1x_a, p1y_a = pts_from_cols(p1_band)
p1x_b, p1y_b = pts_from_pairs(p1_scatter)
make_panel((10, 7, 719, 536), (81, 27, 714, 418), (-1.08, 41.3), p1_yticks,
           p1x_a + p1x_b, p1y_a + p1y_b, p1_fit_x, p1_fit_y, p1_xlabel, p1_ylabel)

p2x_a, p2y_a = pts_from_rows(p2_band)
p2x_b, p2y_b = pts_from_pairs(p2_scatter)
make_panel((10, 551, 719, 1079), (81, 571, 714, 961), (-0.775, 26.69), p2_yticks,
           p2x_a + p2x_b, p2y_a + p2y_b, p2_fit_x, p2_fit_y, p2_xlabel, p2_ylabel)

p3x_a, p3y_a = pts_from_cols(p3_band)
p3x_b, p3y_b = pts_from_pairs(p3_scatter)
make_panel((10, 1094, 719, 1616), (81, 1114, 714, 1506), (-0.745, 25.81), p3_yticks,
           p3x_a + p3x_b, p3y_a + p3y_b, p3_fit_x, p3_fit_y, p3_xlabel, p3_ylabel)

fig.savefig("out.png", dpi=DPI, facecolor="white")
